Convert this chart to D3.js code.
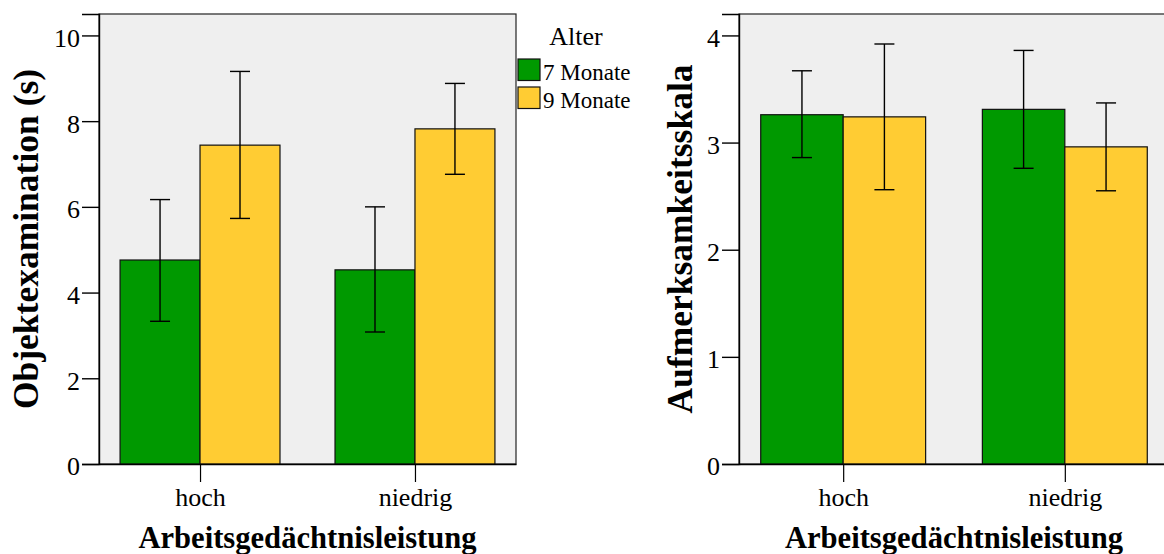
<!DOCTYPE html>
<html>
<head>
<meta charset="utf-8">
<script src="https://cdn.jsdelivr.net/npm/d3@7"></script>
<style>
  html, body { margin: 0; padding: 0; background: #fff; }
  svg { display: block; }
  text { font-family: "Liberation Serif", "Times New Roman", serif; fill: #000; }
</style>
</head>
<body>
<svg id="chart" width="1164" height="554"></svg>
<script>
// Working-memory groups and age groups
const categories = ["hoch", "niedrig"];
const ages = ["7 Monate", "9 Monate"];

// Object examination time (s): means with error bar bounds
const examMean7 = [4.76, 4.53];
const examLow7  = [3.33, 3.08];
const examHigh7 = [6.17, 6.00];
const examMean9 = [7.44, 7.82];
const examLow9  = [5.73, 6.76];
const examHigh9 = [9.16, 8.88];
const examTicks = [0, 2, 4, 6, 8, 10];

// Attention scale: means with error bar bounds
const attMean7 = [3.26, 3.31];
const attLow7  = [2.86, 2.76];
const attHigh7 = [3.67, 3.86];
const attMean9 = [3.24, 2.96];
const attLow9  = [2.56, 2.55];
const attHigh9 = [3.92, 3.37];
const attTicks = [0, 1, 2, 3, 4];

const colors = ["#009900", "#ffcc33"];
const serif = "'Liberation Serif', 'Times New Roman', serif";
const svg = d3.select("#chart");

function panel(opts) {
  const { left, right, top, bottom, yMax, ticks, series, yTitle, yTitleX } = opts;
  const g = svg.append("g");

  const x = d3.scalePoint().domain(categories).range([left, right]).padding(0.47);
  const y = d3.scaleLinear().domain([0, yMax]).range([bottom, top]);
  const barW = x.step() * 0.372;

  // plot background + frame
  g.append("rect")
    .attr("x", left).attr("y", top)
    .attr("width", right - left).attr("height", bottom - top)
    .attr("fill", "#efefef").attr("stroke", "#222").attr("stroke-width", 1.2);

  // bars
  series.forEach((s, si) => {
    g.selectAll(null).data(categories).enter().append("rect")
      .attr("x", d => x(d) + (si - 1) * barW)
      .attr("y", (d, i) => y(s.mean[i]))
      .attr("width", barW)
      .attr("height", (d, i) => y(0) - y(s.mean[i]))
      .attr("fill", colors[si])
      .attr("stroke", "#111").attr("stroke-width", 1.2);
  });

  // error bars
  series.forEach((s, si) => {
    categories.forEach((c, i) => {
      const cx = x(c) + (si - 0.5) * barW;
      const eg = g.append("g").attr("stroke", "#000").attr("stroke-width", 1.4);
      eg.append("line").attr("x1", cx).attr("x2", cx).attr("y1", y(s.low[i])).attr("y2", y(s.high[i]));
      eg.append("line").attr("x1", cx - 10).attr("x2", cx + 10).attr("y1", y(s.low[i])).attr("y2", y(s.low[i]));
      eg.append("line").attr("x1", cx - 10).attr("x2", cx + 10).attr("y1", y(s.high[i])).attr("y2", y(s.high[i]));
    });
  });

  // y axis
  const ya = g.append("g").attr("transform", `translate(${left},0)`)
    .call(d3.axisLeft(y).tickValues(ticks).tickFormat(d3.format("d")).tickSize(17).tickPadding(2));
  ya.attr("font-family", serif);
  ya.select(".domain").attr("stroke", "#000").attr("stroke-width", 1.4);
  ya.selectAll(".tick line").attr("stroke", "#000").attr("stroke-width", 1.4);
  ya.selectAll(".tick text").attr("font-size", 26).attr("dy", "0.42em");

  // x axis
  const xa = g.append("g").attr("transform", `translate(0,${bottom})`)
    .call(d3.axisBottom(x).tickSize(18).tickSizeOuter(0).tickPadding(4));
  xa.attr("font-family", serif);
  xa.select(".domain").attr("stroke", "#000").attr("stroke-width", 1.4);
  xa.selectAll(".tick line").attr("stroke", "#000").attr("stroke-width", 1.2);
  xa.selectAll(".tick text").attr("font-size", 26).attr("dy", "0.77em");

  // axis titles
  g.append("text")
    .attr("x", (left + right) / 2).attr("y", 548)
    .attr("text-anchor", "middle").attr("font-size", 30.6).attr("font-weight", "bold")
    .text("Arbeitsgedächtnisleistung");

  g.append("text")
    .attr("transform", `translate(${yTitleX},${(top + bottom) / 2}) rotate(-90)`)
    .attr("text-anchor", "middle").attr("font-size", 35.5).attr("font-weight", "bold")
    .text(yTitle);
}

panel({
  left: 99, right: 516, top: 14, bottom: 464, yMax: 10.5, ticks: examTicks,
  yTitle: "Objektexamination (s)", yTitleX: 38,
  series: [
    { mean: examMean7, low: examLow7, high: examHigh7 },
    { mean: examMean9, low: examLow9, high: examHigh9 }
  ]
});

panel({
  left: 739, right: 1169, top: 14, bottom: 464, yMax: 4.2, ticks: attTicks,
  yTitle: "Aufmerksamkeitsskala", yTitleX: 692,
  series: [
    { mean: attMean7, low: attLow7, high: attHigh7 },
    { mean: attMean9, low: attLow9, high: attHigh9 }
  ]
});

// legend
const lg = svg.append("g").attr("font-family", serif);
lg.append("text").attr("x", 576).attr("y", 45).attr("text-anchor", "middle")
  .attr("font-size", 26).text("Alter");
ages.forEach((a, i) => {
  lg.append("rect").attr("x", 518).attr("y", 59 + i * 28).attr("width", 22).attr("height", 21.5)
    .attr("fill", colors[i]).attr("stroke", "#111").attr("stroke-width", 1.2);
  lg.append("text").attr("x", 543).attr("y", 80 + i * 27.5).attr("font-size", 23).text(a);
});
</script>
</body>
</html>
